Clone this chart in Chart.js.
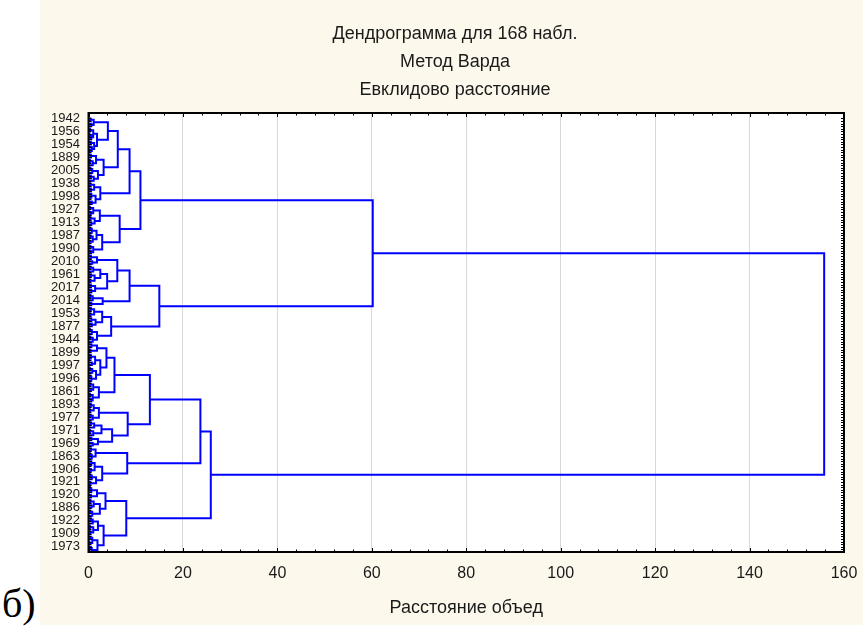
<!DOCTYPE html>
<html><head><meta charset="utf-8">
<script src="https://cdn.jsdelivr.net/npm/chart.js@4.4.1/dist/chart.umd.min.js"></script>
<style>
html,body{margin:0;padding:0;background:#fff;width:863px;height:638px;overflow:hidden;}
#wrap{position:absolute;left:40px;top:0;width:823px;height:625px;background:#FCF8EC;}
#tag{position:absolute;left:2px;top:580px;font-family:"Liberation Serif","DejaVu Serif",serif;font-size:40px;line-height:48px;color:#000;}
</style></head><body>
<div id="wrap"><canvas id="c" width="823" height="625"></canvas></div>
<div id="tag">б)</div>
<script>
// ---------- text ----------
const titleLines = ['Дендрограмма для 168 набл.', 'Метод Варда', 'Евклидово расстояние'];
const xAxisTitle = 'Расстояние объед';
const xTickValues = [0, 20, 40, 60, 80, 100, 120, 140, 160];
const yLabels = ['1942','1956','1954','1889','2005','1938','1998','1927','1913','1987','1990',
  '2010','1961','2017','2014','1953','1877','1944','1899','1997','1996','1861','1893','1977',
  '1971','1969','1863','1906','1921','1920','1886','1922','1909','1973'];
// leaf position (0-based, of 168) at which each label is shown
const yLabelLeaves = [0,5,10,15,20,25,30,35,40,45,50,55,60,65,70,75,80,85,90,95,100,105,110,115,
  120,125,130,135,140,145,150,155,160,165];

// ---------- tree: node = [mergeDistance, left, right], leaf = 0 ----------
// cluster A1
const P1a  = [1.1, [0.4,0,0], [0.6,0,0]];
const P1b  = [1.8, [1.0,[0.3,0,0],[0.6,[0.2,0,0],0]], [1.2,[0.5,0,0],[0.7,0,[0.3,0,0]]]];
const P2   = [3.2, [1.6,[0.5,0,0],[0.9,[0.3,0,0],0]], [2.0,[0.8,[0.4,0,0],0],[1.1,[0.5,0,0],0]]];
const A1ul = [2.5, [1.2,[0.4,0,0],[0.5,0,0]], [1.5,[0.6,0,[0.2,0,0]],[0.7,0,0]]];
const Q1   = [2.4, [1.0,[0.3,0,0],[0.5,0,0]], [1.3,[0.4,0,0],[0.6,0,0]]];
const Q2   = [2.9, [1.7,[0.7,[0.3,0,0],0],[0.9,[0.4,0,0],[0.2,0,0]]], [1.0,[0.4,0,0],[0.5,0,0]]];
const A1   = [11.0, [8.7, [6.2, [4.1, P1a, P1b], P2], A1ul], [6.6, Q1, Q2]];
// cluster A2
const R1u  = [1.8, [0.5,0,0], [0.8,0,0]];
const R1l  = [3.95, [2.5,[1.0,[0.4,0,0],0],[1.3,[0.5,0,0],[0.3,0,0]]], [1.4,[0.5,0,0],[0.6,0,0]]];
const S1   = [3.0, [0.9,[0.4,0,0],0], [0.6,0,0]];
const A2la = [2.9, [1.2,[0.5,0,0],[0.4,0,0]], [1.5,[0.6,0,0],[0.7,0,0]]];
const A2lb = [1.8, [0.7,[0.3,0,0],0], [0.9,[0.4,0,0],0]];
const A2   = [15.0, [8.7, [6.1, R1u, R1l], S1], [4.8, A2la, A2lb]];
// cluster B1
const T1u  = [1.8, [0.6,0,0], [0.4,0,0]];
const T1l  = [2.5, [1.4,[0.5,0,[0.2,0,0]],[0.7,0,0]], [1.6,[0.8,[0.3,0,0],0],[0.6,[0.4,0,0],0]]];
const B1aul= [2.2, [1.0,[0.4,0,0],[0.5,0,0]], [0.9,[0.3,0,0],[0.6,0,0]]];
const U1   = [2.2, [1.1,[0.5,0,0],[0.3,0,0]], [0.9,[0.4,0,0],0]];
const U2a  = [2.75, [1.2,[0.5,0,0],0], [1.0,[0.3,0,0],0]];
const U2b  = [2.0, [0.6,0,0], [0.9,0,0]];
const V1   = [1.5, [0.5,0,0], [0.7,[0.3,0,0],0]];
const V2   = [2.9, [1.3,[0.6,0,[0.2,0,0]],[0.5,0,0]], [1.6,[0.7,[0.3,0,0],0],[0.4,0,0]]];
const B1   = [23.7, [13.0, [5.5, [3.8, T1u, T1l], B1aul], [8.3, U1, [5.0, U2a, U2b]]], [8.2, V1, V2]];
// cluster B2
const W1a  = [1.8, [0.6,[0.3,0,0],0], [0.5,0,0]];
const W1b  = [2.4, [1.1,[0.4,0,0],[0.6,0,0]], [0.8,[0.3,0,0],0]];
const W2a  = [2.0, [0.9,[0.5,0,0],0], [1.0,[0.3,0,0],[0.4,0,0]]];
const W2b  = [1.9, [0.8,[0.4,0,0],[0.2,0,0]], [0.7,[0.5,0,0],0]];
const B2   = [8.0, [3.6, W1a, W1b], [3.2, W2a, W2b]];
// top levels
const topMerges = { A: 60.2, B: 25.9, root: 155.8 };
const tree = [topMerges.root, [topMerges.A, A1, A2], [topMerges.B, B1, B2]];
const leafCount = 168;

// ---------- build dendrogram line segments ----------
let nextLeaf = 0;
const segs = [];
function place(node) {
  if (node === 0) return { y: nextLeaf++, h: 0 };
  const [h, a, b] = node;
  const L = place(a), R = place(b);
  segs.push({x: L.h, y: L.y}, {x: h, y: L.y}, {x: h, y: R.y}, {x: R.h, y: R.y}, {x: NaN, y: NaN});
  return { y: (L.y + R.y) / 2, h };
}
place(tree);

const FONT = '"Liberation Sans", Arial, sans-serif';
const TXT = '#1a1a1a';

const framePlugin = {
  id: 'frame',
  beforeDraw(chart) {
    const {ctx, chartArea: a} = chart;
    ctx.save();
    ctx.fillStyle = '#ffffff';
    ctx.fillRect(a.left, a.top, a.right - a.left, a.bottom - a.top);
    ctx.restore();
  },
  afterDatasetsDraw(chart) {
    const {ctx, chartArea: a, scales: {x, y}} = chart;
    ctx.save();
    ctx.strokeStyle = '#000';
    ctx.lineWidth = 1;
    ctx.beginPath();
    for (let v = 0; v <= 160; v += 4) {
      const px = Math.round(x.getPixelForValue(v)) + 0.5;
      const len = v % 20 === 0 ? 4 : 2.5;
      ctx.moveTo(px, a.bottom); ctx.lineTo(px, a.bottom - len);
      ctx.moveTo(px, a.top); ctx.lineTo(px, a.top + len);
    }
    for (let i = 0; i < leafCount; i++) {
      const py = Math.round(y.getPixelForValue(i)) + 0.5;
      ctx.moveTo(a.left, py); ctx.lineTo(a.left + 3, py);
      ctx.moveTo(a.right, py); ctx.lineTo(a.right - 3, py);
    }
    ctx.stroke();
    ctx.lineWidth = 2;
    ctx.strokeRect(a.left, a.top, a.right - a.left, a.bottom - a.top);
    ctx.restore();
  }
};

new Chart(document.getElementById('c'), {
  type: 'scatter',
  data: { datasets: [{
    data: segs,
    showLine: true,
    spanGaps: false,
    borderColor: '#0000ff',
    borderWidth: 2,
    pointRadius: 0,
    pointHoverRadius: 0,
    tension: 0
  }]},
  options: {
    responsive: false,
    animation: false,
    events: [],
    layout: { padding: { left: 26, right: 19, top: 0, bottom: 0 } },
    plugins: {
      legend: { display: false },
      tooltip: { enabled: false },
      title: {
        display: true, text: titleLines, color: TXT,
        font: { family: FONT, size: 18, weight: 'normal', lineHeight: 28.2 / 18 },
        padding: { top: 20, bottom: 8.4 }
      }
    },
    scales: {
      x: {
        type: 'linear', min: 0, max: 160,
        afterBuildTicks: s => { s.ticks = xTickValues.map(v => ({ value: v })); },
        afterFit: s => { s.height = 73; s.paddingLeft = 0; s.paddingRight = 0; },
        grid: { color: '#d8d8d8', lineWidth: 1, drawTicks: false },
        border: { display: false },
        ticks: { color: TXT, font: { family: FONT, size: 16 }, padding: 12, maxRotation: 0 },
        title: { display: true, text: xAxisTitle, color: TXT,
          font: { family: FONT, size: 18, lineHeight: 1.2 }, padding: { top: 0, bottom: 6 } }
      },
      y: {
        type: 'linear', reverse: true, min: -2.1, max: 167,
        afterBuildTicks: s => { s.ticks = yLabelLeaves.map(v => ({ value: v })); },
        afterFit: s => { s.width = 22.5; s.paddingTop = 0; s.paddingBottom = 0; },
        grid: { display: false, drawTicks: false },
        border: { display: false },
        ticks: { autoSkip: false, mirror: true, color: TXT, font: { family: FONT, size: 13 }, padding: -37.5,
          callback: (v, i) => yLabels[i] }
      }
    }
  },
  plugins: [framePlugin]
});
</script>
</body></html>
